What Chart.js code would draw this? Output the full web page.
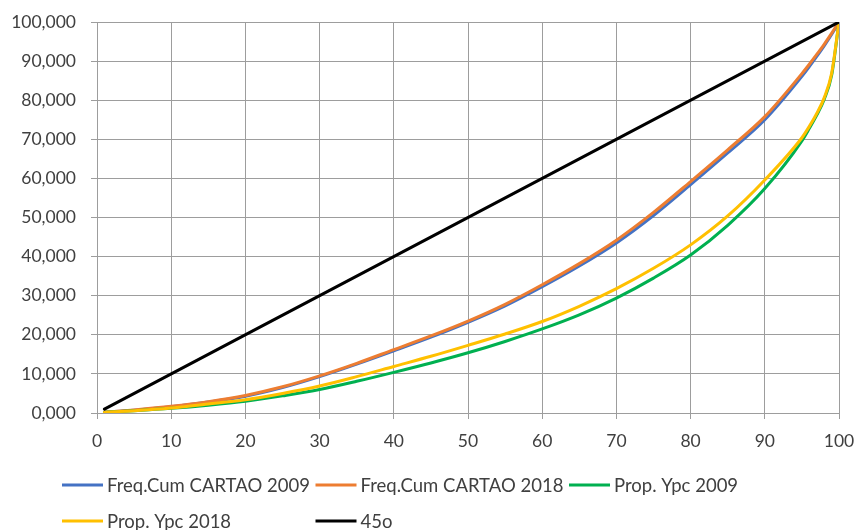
<!DOCTYPE html>
<html>
<head>
<meta charset="utf-8">
<title>Curvas de Lorenz</title>
<script src="https://cdn.jsdelivr.net/npm/chart.js@4.4.1/dist/chart.umd.min.js"></script>
<style>
  html, body { margin: 0; padding: 0; background: #ffffff; }
  #wrap { width: 859px; height: 530px; }
</style>
</head>
<body>
<div id="wrap"><canvas id="c" width="859" height="530"></canvas></div>
<script>
// Population percentiles (x axis)
const percentis = [1, 5, 10, 15, 20, 25, 30, 35, 40, 45, 50, 55, 60, 65, 70, 75, 80, 85, 90, 95, 96, 97, 98, 99, 100];

// Cumulative shares (%) for each series
const freqCumCartao2009 = [0.2, 0.7, 1.6, 2.8, 4.3, 6.5, 9.3, 12.5, 15.9, 19.4, 23.2, 27.4, 32.3, 37.6, 43.5, 50.5, 58.4, 66.5, 75.0, 86.1, 88.6, 91.2, 93.9, 96.8, 100];
const freqCumCartao2018 = [0.2, 0.8, 1.7, 2.9, 4.5, 6.7, 9.5, 12.7, 16.2, 19.7, 23.5, 27.8, 32.8, 38.2, 44.2, 51.3, 59.2, 67.3, 75.8, 86.8, 89.2, 91.7, 94.3, 97.1, 100];
const propYpc2009 = [0.2, 0.6, 1.2, 2.0, 3.0, 4.4, 6.0, 8.1, 10.4, 12.8, 15.4, 18.3, 21.5, 25.1, 29.4, 34.5, 40.4, 48.0, 57.4, 69.6, 72.8, 76.2, 80.2, 86.3, 100];
const propYpc2018 = [0.2, 0.6, 1.3, 2.3, 3.4, 5.0, 6.9, 9.3, 11.9, 14.5, 17.3, 20.2, 23.4, 27.3, 31.8, 37.0, 43.0, 50.4, 59.6, 70.4, 73.3, 76.6, 80.6, 86.8, 100];

// Equality line end points
const igualdadeX = [1, 100];
const igualdadeY = [1, 100];

const nomes = ['Freq.Cum CARTAO 2009', 'Freq.Cum CARTAO 2018', 'Prop. Ypc 2009', 'Prop. Ypc 2018', '45o'];
const cores = ['#4472C4', '#ED7D31', '#00B050', '#FFC000', '#000000'];

const pares = (xs, ys) => xs.map((x, i) => ({ x: x, y: ys[i] }));

const FONTE = '"Lato", "Open Sans", sans-serif';
const COR_TEXTO = '#404040';
const COR_GRADE = '#9d9d9d';

function serie(i, xs, ys, ordem) {
  return {
    label: nomes[i],
    data: pares(xs, ys),
    borderColor: cores[i],
    backgroundColor: cores[i],
    borderWidth: 3,
    pointRadius: 0,
    pointHoverRadius: 0,
    fill: false,
    cubicInterpolationMode: 'monotone',
    borderCapStyle: 'round',
    borderJoinStyle: 'round',
    order: ordem
  };
}

// Legend laid out on a fixed column grid below the plot
const legendaGrade = {
  id: 'legendaGrade',
  afterDraw(chart) {
    const ctx = chart.ctx;
    const colunas = 3;
    const inicio = 62, largura = 253.5;
    const linhas = [485, 521];
    ctx.save();
    ctx.font = '18.5px ' + FONTE;
    ctx.textBaseline = 'middle';
    ctx.textAlign = 'left';
    chart.data.datasets.forEach((ds, i) => {
      const col = i % colunas;
      const lin = Math.floor(i / colunas);
      const x0 = inicio + col * largura;
      const y = linhas[lin];
      ctx.strokeStyle = ds.borderColor;
      ctx.lineWidth = 3;
      ctx.lineCap = 'butt';
      ctx.beginPath();
      ctx.moveTo(x0, y);
      ctx.lineTo(x0 + 41, y);
      ctx.stroke();
      ctx.fillStyle = COR_TEXTO;
      ctx.fillText(ds.label, x0 + 45, y + 1);
    });
    ctx.restore();
  }
};

const fundoBranco = {
  id: 'fundoBranco',
  beforeDraw(chart) {
    const ctx = chart.ctx;
    ctx.save();
    ctx.fillStyle = '#ffffff';
    ctx.fillRect(0, 0, chart.width, chart.height);
    ctx.restore();
  }
};

new Chart(document.getElementById('c'), {
  type: 'line',
  data: {
    datasets: [
      serie(0, percentis, freqCumCartao2009, 5),
      serie(1, percentis, freqCumCartao2018, 4),
      serie(2, percentis, propYpc2009, 3),
      serie(3, percentis, propYpc2018, 2),
      serie(4, igualdadeX, igualdadeY, 1)
    ]
  },
  options: {
    responsive: false,
    animation: false,
    layout: { padding: { top: 22, right: 20, bottom: 72, left: 0 } },
    plugins: {
      legend: { display: false },
      tooltip: { enabled: false }
    },
    scales: {
      x: {
        type: 'linear',
        min: 0,
        max: 100,
        afterFit(scale) {
          scale.height = 45;
          scale.paddingLeft = 0;
          scale.paddingRight = 0;
        },
        ticks: {
          stepSize: 10,
          padding: 12,
          color: COR_TEXTO,
          font: { family: FONTE, size: 17.5 }
        },
        grid: { color: COR_GRADE, lineWidth: 1, tickLength: 6, drawTicks: true },
        border: { color: COR_GRADE, width: 1 }
      },
      y: {
        type: 'linear',
        min: 0,
        max: 100,
        afterFit(scale) {
          scale.width = 97;
          scale.paddingTop = 0;
          scale.paddingBottom = 0;
        },
        ticks: {
          stepSize: 10,
          padding: 15,
          color: COR_TEXTO,
          font: { family: FONTE, size: 17.5 },
          callback: (v) => v.toFixed(3).replace('.', ',')
        },
        grid: { color: COR_GRADE, lineWidth: 1, tickLength: 6, drawTicks: true },
        border: { color: COR_GRADE, width: 1 }
      }
    }
  },
  plugins: [fundoBranco, legendaGrade]
});
</script>
</body>
</html>
